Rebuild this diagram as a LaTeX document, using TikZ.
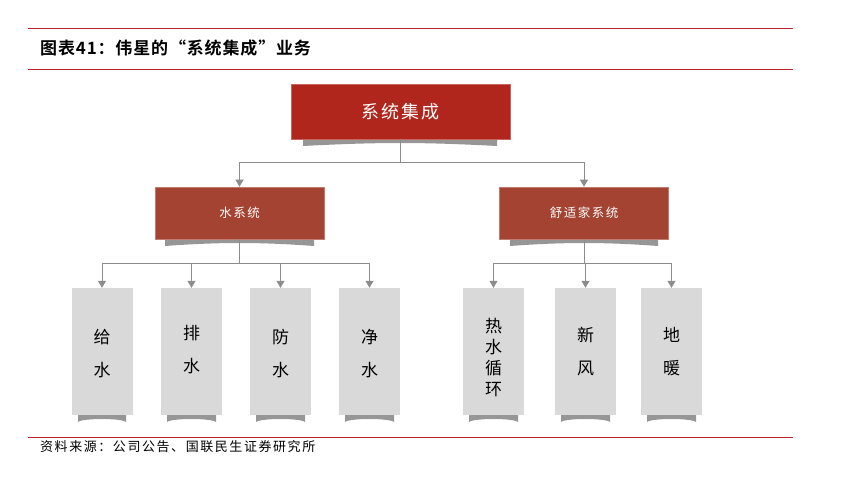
\documentclass[tikz,border=0pt]{standalone}
\usepackage{fontspec}
\newfontfamily\cjk{Noto Sans CJK SC}
\newfontfamily\cjksp[LetterSpace=12]{Noto Sans CJK SC}
\newfontfamily\cjkb[LetterSpace=5]{Noto Sans CJK SC Bold}
\usetikzlibrary{arrows.meta}
\definecolor{topred}{RGB}{176,38,28}
\definecolor{midred}{RGB}{165,67,50}
\definecolor{leafgray}{RGB}{217,217,217}
\definecolor{linegray}{RGB}{140,140,140}
\definecolor{rulered}{RGB}{185,35,45}
\definecolor{shadowgray}{RGB}{150,150,150}
\tikzset{
  topbox/.style={fill=topred, draw=topred!70!white, line width=0.6pt, minimum width=219pt, minimum height=55pt, inner sep=0pt, text=white, font=\cjksp\fontsize{18}{20}\selectfont},
  midbox/.style={fill=midred, draw=midred!70!white, line width=0.6pt, minimum width=169pt, minimum height=52pt, inner sep=0pt, text=white, font=\cjksp\fontsize{12.5}{14}\selectfont},
  leafbox/.style={fill=leafgray, minimum width=61pt, minimum height=127pt, inner sep=0pt},
  leaftext/.style={font=\cjk\fontsize{17}{21}\selectfont, align=center, text=black},
  conn/.style={draw=linegray, line width=1pt},
  arr/.style={conn, -{Triangle[length=7pt,width=8pt,fill=linegray]}},
}
\newcommand{\shadowunder}[3]{% x1, x2, ytop
  \fill[shadowgray] (#1,#3) -- (#2,#3) -- (#2,#3+7) .. controls ({(#1+#2)/2+20},#3+3) and ({(#1+#2)/2-20},#3+3) .. (#1,#3+7) -- cycle;
}
\begin{document}
\begin{tikzpicture}[x=1pt,y=-1pt]
\useasboundingbox (0,0) rectangle (854,480);
% rules
\draw[rulered, line width=1pt] (28,28) -- (793,28);
\draw[rulered, line width=1pt] (28,69) -- (793,69);
\draw[rulered, line width=1pt] (28,437) -- (793,437);
\node[anchor=west, inner sep=0pt, font=\cjkb\fontsize{17}{19}\selectfont] (title) at (40,48) {图表41：伟星的“系统集成”业务};
\node[anchor=west, inner sep=0pt, font=\cjksp\fontsize{13}{15}\selectfont] (src) at (40,447) {资料来源：公司公告、国联民生证券研究所};

% shadows
\shadowunder{303}{497}{139}
\shadowunder{165}{314}{239}
\shadowunder{510}{658}{239}
\shadowunder{78}{126}{415}
\shadowunder{167}{216}{415}
\shadowunder{256}{305}{415}
\shadowunder{345}{394}{415}
\shadowunder{469}{518}{415}
\shadowunder{561}{610}{415}
\shadowunder{647}{696}{415}

% boxes
\node[topbox] (top) at (400.5,111.5) {系统集成};
\node[midbox] (water) at (239.5,213) {水系统};
\node[midbox] (comfort) at (584,213) {舒适家系统};

\node[leafbox] (l1) at (102,351.5) {};
\node[leafbox] (l2) at (191.5,351.5) {};
\node[leafbox] (l3) at (280.5,351.5) {};
\node[leafbox] (l4) at (369.5,351.5) {};
\node[leafbox] (r1) at (493.5,351.5) {};
\node[leafbox] (r2) at (585.5,351.5) {};
\node[leafbox] (r3) at (671.5,351.5) {};

\node[leaftext] (t1) at (102,353.5) {给\\[12pt]水};
\node[leaftext] (t2) at (191.5,350) {排\\[12pt]水};
\node[leaftext] (t3) at (280.5,353.5) {防\\[12pt]水};
\node[leaftext] (t4) at (369.5,353.5) {净\\[12pt]水};
\node[leaftext, font=\cjk\fontsize{17}{21}\selectfont] (t5) at (493.5,357) {热\\水\\循\\环};
\node[leaftext] (t6) at (585.5,352) {新\\[12pt]风};
\node[leaftext] (t7) at (671.5,352) {地\\[12pt]暖};

% connectors
\coordinate (j0) at (400.5,162);
\draw[conn] (top.south) -- (j0);
\draw[arr] (j0) -| (water.north);
\draw[arr] (j0) -| (comfort.north);

\coordinate (jw) at (239.5,263);
\draw[conn] (water.south) -- (jw);
\draw[arr] (jw) -| (l1.north);
\draw[arr] (jw) -| (l2.north);
\draw[arr] (jw) -| (l3.north);
\draw[arr] (jw) -| (l4.north);

\coordinate (jc) at (584,263);
\draw[conn] (comfort.south) -- (jc);
\draw[arr] (jc) -| (r1.north);
\draw[arr] (jc) -| (r2.north);
\draw[arr] (jc) -| (r3.north);
\end{tikzpicture}
\end{document}
